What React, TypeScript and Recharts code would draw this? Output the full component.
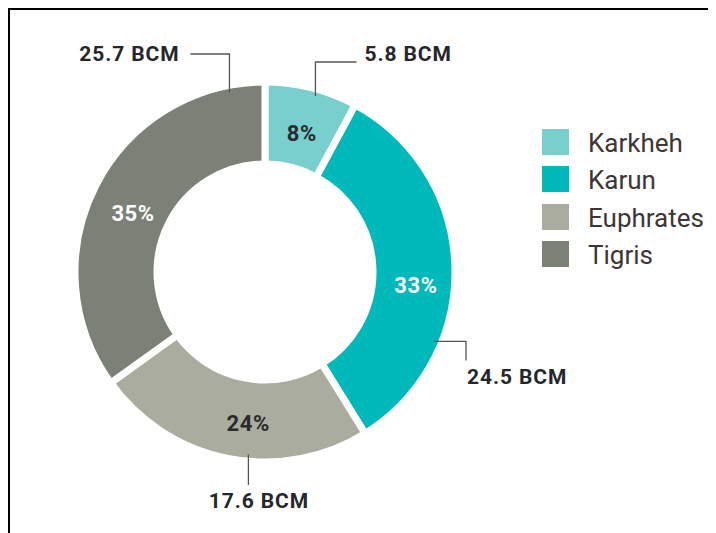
import React from 'react';
import { PieChart, Pie, Cell, Legend } from 'recharts';

// annual flow per river basin, billion cubic metres
const rivers = ['Karkheh', 'Karun', 'Euphrates', 'Tigris'];
const volumesBcm = [5.8, 24.5, 17.6, 25.7];
const colors = ['#79cece', '#00b9ba', '#a9ac9f', '#7b8176'];
const pctColors = ['#2b2b2b', '#ffffff', '#2b2b2b', '#ffffff'];

const data = rivers.map((name, i) => ({ name, value: volumesBcm[i] }));

const FONT = 'Roboto, "DejaVu Sans", sans-serif';
const RADIAN = Math.PI / 180;

// placement of the percentage inside each ring segment (angle shift / radius from mid ring)
const pctLayout = [
  { shift: -0.7, dr: -6 },
  { shift: -7, dr: 2.6 },
  { shift: 4.9, dr: 3 },
  { shift: 3.1, dr: -4.5 },
];

// leader line for each BCM callout
type Callout = {
  angle: number;
  first: 'v' | 'h';
  to: number; // y (relative to cy) for vertical leg, x (relative to cx) for horizontal leg
  len: number; // second leg length (signed)
  tx: number;
  ty: number;
  anchor: 'start' | 'end' | 'middle';
};
const callouts: Callout[] = [
  { angle: 74, first: 'v', to: -210, len: 41, tx: 8, ty: -1, anchor: 'start' },
  { angle: -22.3, first: 'h', to: 201, len: 19, tx: 1, ty: 24, anchor: 'start' },
  { angle: -95.2, first: 'v', to: 213, len: 0, tx: 10.5, ty: 23, anchor: 'middle' },
  { angle: 101.2, first: 'v', to: -218, len: -39, tx: -11, ty: 6.5, anchor: 'end' },
];

const renderLabel = (props: any) => {
  const { cx, cy, midAngle, innerRadius, outerRadius, percent, index, value } = props;
  const p = pctLayout[index];
  const a = (midAngle + p.shift) * RADIAN;
  const r = (innerRadius + outerRadius) / 2 + p.dr;
  const px = cx + r * Math.cos(a);
  const py = cy - r * Math.sin(a);

  const c = callouts[index];
  const ca = c.angle * RADIAN;
  const r0 = outerRadius - 7;
  const x0 = cx + r0 * Math.cos(ca);
  const y0 = cy - r0 * Math.sin(ca);
  let pts: [number, number][];
  if (c.first === 'v') {
    const y1 = cy + c.to;
    pts = [[x0, y0], [x0, y1], [x0 + c.len, y1]];
  } else {
    const x1 = cx + c.to;
    pts = [[x0, y0], [x1, y0], [x1, y0 + c.len]];
  }
  const end = pts[pts.length - 1];

  return (
    <g>
      <text
        x={px}
        y={py}
        fill={pctColors[index]}
        textAnchor="middle"
        dominantBaseline="central"
        fontFamily={FONT}
        fontWeight={700}
        fontSize={22}
        letterSpacing={0.6}
      >
        {`${Math.round(percent * 100)}%`}
      </text>
      <polyline
        points={pts.map((q) => q.join(',')).join(' ')}
        fill="none"
        stroke="#555"
        strokeWidth={1.3}
      />
      <text
        x={end[0] + c.tx}
        y={end[1] + c.ty}
        fill="#26272b"
        textAnchor={c.anchor}
        fontFamily={FONT}
        fontWeight={700}
        fontSize={21}
        letterSpacing={0.9}
      >
        {`${value} BCM`}
      </text>
    </g>
  );
};

const renderLegend = (props: any) => {
  const payload = props.payload || [];
  return (
    <div>
      {payload.map((entry: any) => {
        const i = rivers.indexOf(entry.value);
        return (
          <div key={entry.value} style={{ display: 'flex', alignItems: 'flex-start', height: 37.3 }}>
            <div style={{ width: 27, height: 26, background: colors[i] ?? entry.color, flexShrink: 0 }} />
            <span
              style={{
                marginLeft: 19,
                fontFamily: FONT,
                fontSize: 26,
                lineHeight: '34px',
                marginTop: -3,
                color: '#3d3637',
                whiteSpace: 'nowrap',
              }}
            >
              {entry.value}
            </span>
          </div>
        );
      })}
    </div>
  );
};

export default function App() {
  return (
    <div
      style={{
        position: 'relative',
        width: 708,
        height: 525,
        borderTop: '2px solid #000',
        borderLeft: '2px solid #000',
        boxSizing: 'border-box',
      }}
    >
      <div style={{ position: 'absolute', left: -2, top: -2 }}>
        <PieChart width={700} height={525} margin={{ top: 0, right: 0, bottom: 0, left: 0 }}>
          <Pie
            data={data}
            dataKey="value"
            nameKey="name"
            cx={257}
            cy={264}
            outerRadius={190}
            innerRadius={108}
            startAngle={90}
            endAngle={-270}
            stroke="#ffffff"
            strokeWidth={7}
            label={renderLabel}
            labelLine={false}
            isAnimationActive={false}
          >
            {data.map((d, i) => (
              <Cell key={d.name} fill={colors[i]} />
            ))}
          </Pie>
          <Legend
            layout="vertical"
            align="right"
            verticalAlign="top"
            itemSorter={(item: any) => rivers.indexOf(item.value)}
            content={renderLegend}
            wrapperStyle={{ left: 534, top: 121, right: 'auto', width: 166 }}
          />
        </PieChart>
      </div>
    </div>
  );
}
